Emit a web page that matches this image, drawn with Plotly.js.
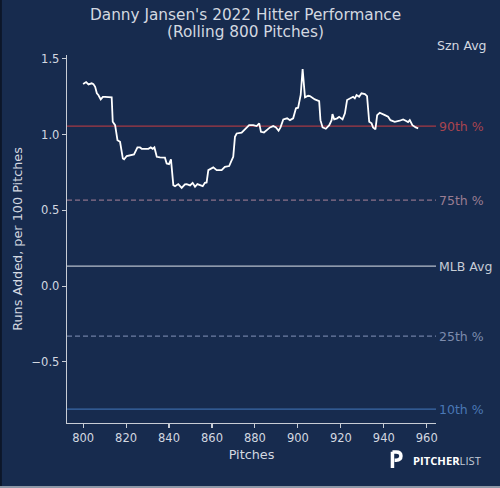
<!DOCTYPE html>
<html>
<head>
<meta charset="utf-8">
<script src="https://cdn.plot.ly/plotly-3.0.1.min.js"></script>
<style>html,body{margin:0;padding:0;background:#172b4e;}#chart{width:500px;height:488px;}</style>
</head>
<body>
<div id="chart"></div>
<script>
// Rolling 800-pitch runs added per 100 pitches
const pitches = [800,801.4,802.5,804,804.8,805.6,806.4,807.1,808.2,809.2,810.2,813.3,813.8,814.9,816,817.2,818.5,819.1,820.3,821.9,823.7,825.3,826.5,827.3,830.4,831.5,832.4,833.2,834.3,835.8,838.1,838.9,840,840.9,842,842.8,844.3,845.9,847.4,848.2,849.8,851,852.1,853.2,854.4,855.7,856.7,857.5,858.3,859.1,860.6,862.2,864.5,866,868,869.2,869.9,870.7,871.5,873.8,875.3,876.1,877.3,879.2,880.8,882,882.8,884.2,885.4,887,888.5,889.8,891,891.9,893.2,895,896.3,897.8,899.1,900.1,901.3,902.2,903.3,904.8,905.6,907.9,909.9,910.5,911.5,913,914.6,915.7,916.1,916.9,918.3,919.2,920.8,921.9,922.9,924.2,925.7,926.5,927.3,928.5,929.6,931.2,932.2,933.2,934.3,935,936.1,936.9,938.1,940.5,942,943.1,945.1,947.4,949,950.2,951.3,952.1,953.3,954.9,956];
const runsAdded = [1.334,1.347,1.332,1.339,1.334,1.316,1.273,1.262,1.233,1.25,1.25,1.246,1.085,1.063,0.964,0.953,0.843,0.837,0.859,0.863,0.870,0.916,0.916,0.907,0.907,0.916,0.907,0.916,0.854,0.850,0.848,0.810,0.806,0.837,0.667,0.660,0.674,0.649,0.672,0.674,0.665,0.682,0.656,0.674,0.665,0.660,0.682,0.685,0.766,0.771,0.784,0.766,0.766,0.788,0.793,0.832,0.854,0.986,1.008,1.013,1.035,1.042,1.063,1.063,1.057,1.075,1.019,1.015,1.030,1.048,1.057,1.048,1.026,1.048,1.101,1.108,1.096,1.108,1.174,1.178,1.262,1.433,1.246,1.257,1.255,1.233,1.222,1.096,1.048,1.039,1.063,1.096,1.136,1.101,1.108,1.118,1.101,1.141,1.229,1.240,1.250,1.240,1.262,1.250,1.273,1.268,1.255,1.085,1.075,1.048,1.035,1.129,1.145,1.129,1.118,1.096,1.085,1.092,1.101,1.092,1.083,1.096,1.063,1.048,1.042];

// Reference levels
const refLabels = ["90th %", "75th %", "MLB Avg", "25th %", "10th %"];
const refValues = [1.057, 0.568, 0.132, -0.330, -0.812];
const refColors = ["#a63a45", "#8c7189", "#b7bfcb", "#6f7fa3", "#3b6aa8"];
const refText = ["#a8444f", "#9a7d92", "#c6ccd6", "#7d8cad", "#4a78b5"];
const refDash = ["solid", "5px,3px", "solid", "5px,3px", "solid"];

const xTicks = [800,820,840,860,880,900,920,940,960];
const yTicks = [-0.5,0.0,0.5,1.0,1.5];
const titleLines = ["Danny Jansen's 2022 Hitter Performance", "(Rolling 800 Pitches)"];

const bg = "#172b4e";
const fg = "#d3d8e0";
const font = "DejaVu Sans, sans-serif";

const shapes = refValues.map((v,i)=>({
  type:"line", xref:"paper", x0:0, x1:1, yref:"y", y0:v, y1:v,
  line:{color:refColors[i], width:1.3, dash:refDash[i]}, layer:"below"
}));
// screenshot edges
shapes.push({type:"rect", xref:"paper", yref:"paper", x0:-0.19, x1:-0.1765, y0:-0.3, y1:1.3, line:{width:0}, fillcolor:"#0c1629"});
shapes.push({type:"rect", xref:"paper", yref:"paper", x0:-0.2, x1:1.2, y0:-0.1715, y1:-0.2, line:{width:0}, fillcolor:"#8e99a8"});
// logo icon "P"
shapes.push({type:"path", xref:"paper", yref:"paper", layer:"above",
  path:"M 0.882 -0.078 L 0.882 -0.122 M 0.882 -0.079 L 0.892 -0.079 Q 0.905 -0.079 0.905 -0.090 Q 0.905 -0.101 0.892 -0.101 L 0.888 -0.101",
  line:{color:"#ffffff", width:3.5}});

const annotations = refValues.map((v,i)=>({
  xref:"paper", x:1, xanchor:"left", xshift:1, yref:"y", y:v, yanchor:"middle",
  text:refLabels[i], showarrow:false, font:{family:font, size:12.5, color:refText[i]}
}));
annotations.push({xref:"paper", x:1, xanchor:"left", xshift:-1, yref:"paper", y:1.027, yanchor:"middle",
  text:"Szn Avg", showarrow:false, font:{family:font, size:12.5, color:fg}});
annotations.push({xref:"paper", x:0.932, xanchor:"left", yref:"paper", y:-0.103, yanchor:"middle",
  text:"<b>PITCHER</b><span style='color:#c5ccd6'>LIST</span>", showarrow:false, font:{family:"Open Sans, sans-serif", size:11.2, color:"#ffffff"}});
annotations.push({xref:"paper", x:0.4837, xanchor:"center", yref:"paper", y:1.1087, yanchor:"middle",
  text:titleLines[0], showarrow:false, font:{family:font, size:15.3, color:fg}});
annotations.push({xref:"paper", x:0.4837, xanchor:"center", yref:"paper", y:1.0625, yanchor:"middle",
  text:titleLines[1], showarrow:false, font:{family:font, size:15.3, color:fg}});

const trace = {
  x: pitches, y: runsAdded, type:"scatter", mode:"lines",
  line:{color:"#ffffff", width:1.8}, hoverinfo:"skip"
};

const layout = {
  width:500, height:488,
  paper_bgcolor:bg, plot_bgcolor:bg,
  margin:{l:67, r:64, t:55, b:65},
  showlegend:false,
  font:{family:font, color:fg, size:11.5},
  xaxis:{range:[792.5,964.3], tickvals:xTicks, ticktext:xTicks.map(String), showgrid:false, zeroline:false,
    showline:true, linecolor:"#c8cdd5", linewidth:1.3, ticks:"outside", ticklen:4, tickwidth:1.1, tickcolor:"#c8cdd5",
    tickfont:{family:font, size:11.5, color:fg},
    title:{text:"Pitches", font:{family:font, size:12.8, color:fg}, standoff:6}},
  yaxis:{range:[-0.903,1.526], tickvals:yTicks, ticktext:yTicks.map(v=>(v<0?"\u2212":"")+Math.abs(v).toFixed(1)), showgrid:false, zeroline:false,
    showline:true, linecolor:"#c8cdd5", linewidth:1.3, ticks:"outside", ticklen:4, tickwidth:1.1, tickcolor:"#c8cdd5",
    tickfont:{family:font, size:11.5, color:fg},
    title:{text:"Runs Added, per 100 Pitches", font:{family:font, size:12.8, color:fg}, standoff:6}},
  shapes: shapes,
  annotations: annotations
};

Plotly.newPlot("chart", [trace], layout, {staticPlot:true, displayModeBar:false});
</script>
</body>
</html>
